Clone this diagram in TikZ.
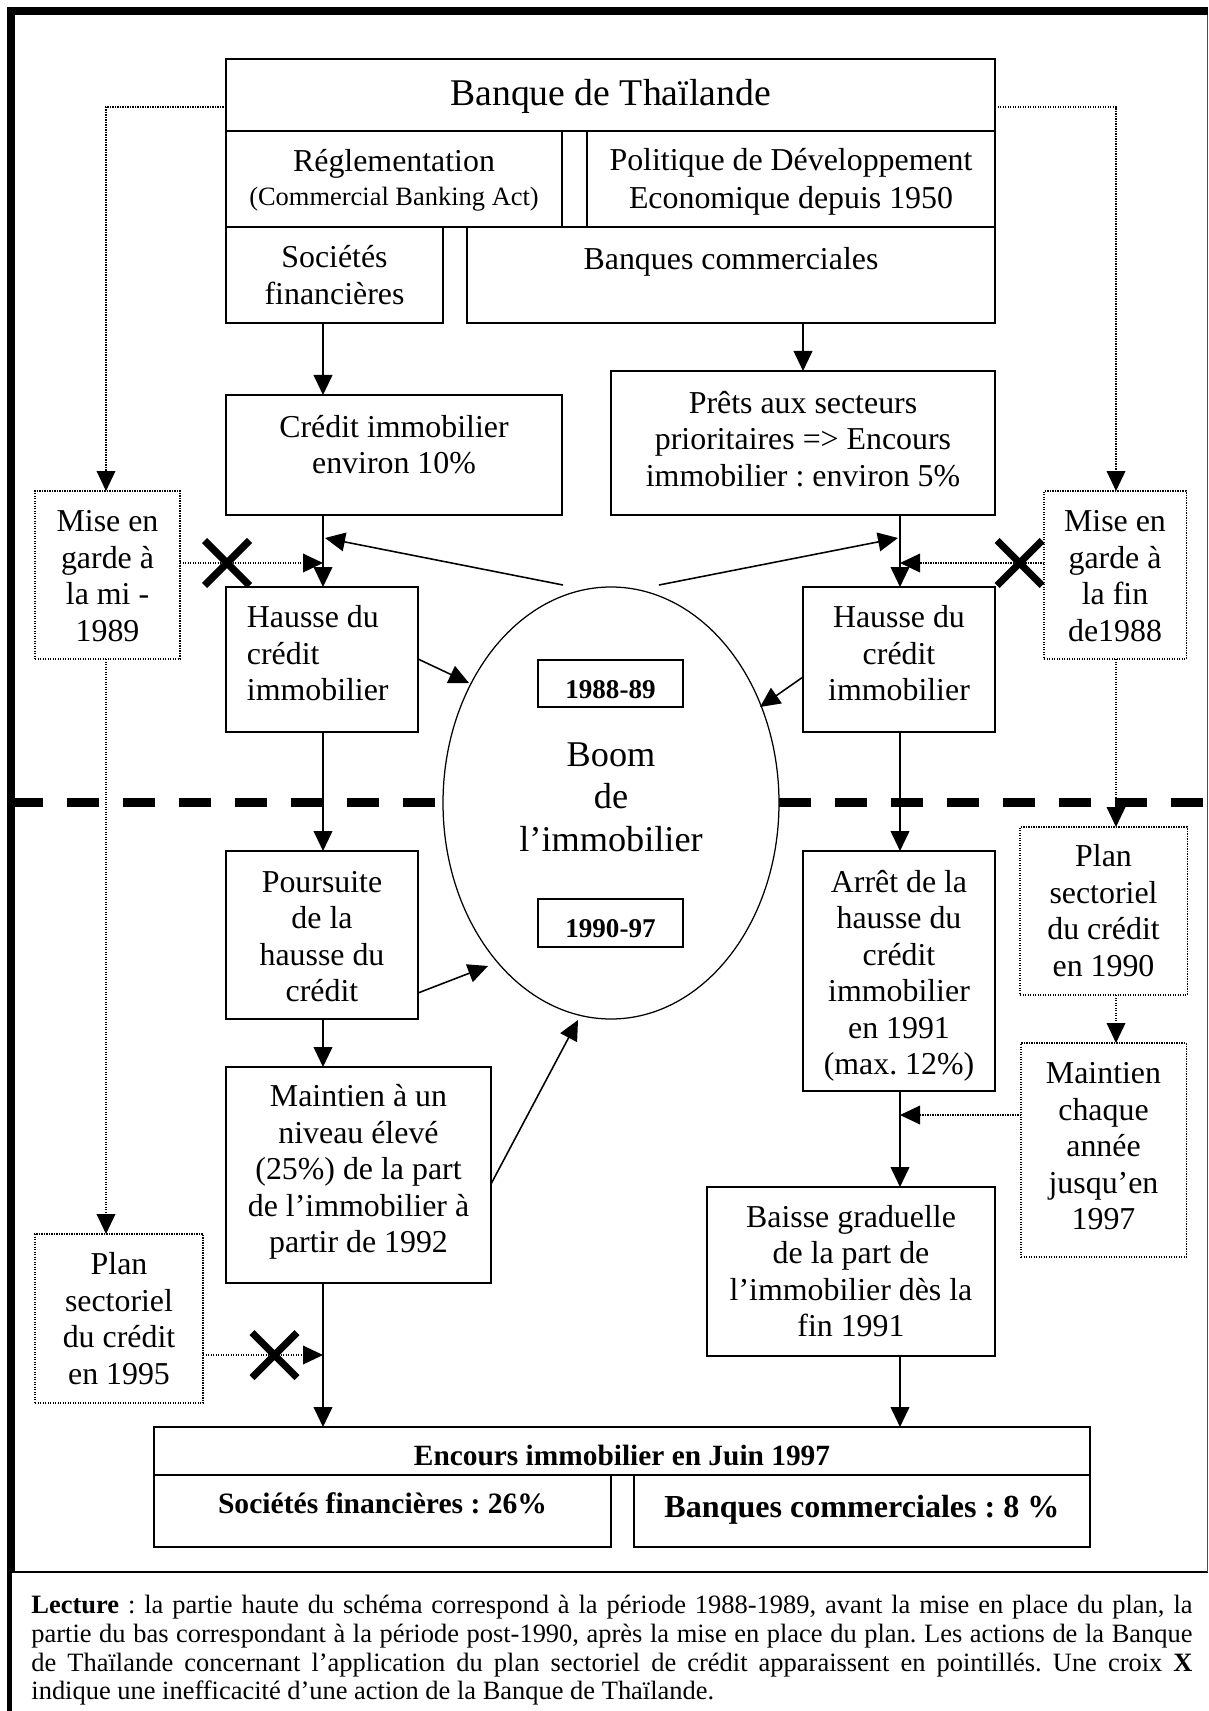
\documentclass[tikz,border=0pt]{standalone}
\usepackage{fontspec}
\setmainfont{Liberation Serif}
\usetikzlibrary{arrows.meta,shapes.geometric}
\frenchspacing
\newcommand\bx[6][box]{\node[#1, anchor=north west, minimum width={(#5-#3)*0.48pt}, minimum height={(#6-#4)*0.48pt}] (#2) at (#3,#4) {};}
\begin{document}
\begin{tikzpicture}[x=0.48pt, y=-0.48pt,
  box/.style={draw, line width=0.75pt, inner sep=0pt, outer sep=0pt},
  tbox/.style={box, line width=1pt},
  dbox/.style={box, line width=0.5pt, dash pattern=on 0.6pt off 0.6pt},
  ybox/.style={box, line width=0.9pt},
  txt/.style={inner sep=0pt, align=center, font=\fontsize{15.3}{17.5}\selectfont, execute at begin node=\strut\frenchspacing, execute at end node=\strut},
  btxt/.style={txt, font=\bfseries\fontsize{13}{15}\selectfont},
  arr/.style={line width=0.75pt, -{Triangle[length=9.6pt, width=9pt]}},
  darr/.style={line width=0.5pt, dash pattern=on 0.6pt off 0.6pt, -{Triangle[length=9.6pt, width=9pt]}},
  cross/.style={line width=3.4pt},
  bigdash/.style={line width=4.32pt, dash pattern=on 15.36pt off 11.52pt}
]
\useasboundingbox (0,0) rectangle (1208,1711);
% frame
\fill (7,7) rectangle (1208,15);
\fill (7,7) rectangle (15,1572);
\fill (7,1572) rectangle (12,1711);
\draw[line width=0.5pt] (7,1572) -- (1208,1572);
\draw[line width=0.5pt, black!70] (1207,15) -- (1207,1572);
% period separator
\draw[bigdash] (11,802.5) -- (450,802.5);
\draw[bigdash] (779,802.5) -- (1208,802.5);
% ellipse
\node[draw, ellipse, line width=0.6pt, fill=white, inner sep=0pt, minimum width={336*0.48pt}, minimum height={432*0.48pt}] (boom) at (611,803) {};
% boxes
\bx[tbox]{banque}{226}{59}{995}{131}
\bx[tbox]{reg}{226}{131}{562}{227}
\bx[tbox]{pol}{587}{131}{995}{227}
\bx[tbox]{soc}{226}{227}{443}{323}
\bx[tbox]{bc}{467}{227}{995}{323}
\bx{cred}{226}{395}{562}{515}
\bx{prets}{611}{371}{995}{515}
\bx[dbox]{miseL}{35}{491}{180}{659}
\bx[dbox]{miseR}{1044}{491}{1186}{659}
\bx{hausL}{226}{587}{418}{732}
\bx{hausR}{803}{587}{995}{732}
\bx[ybox]{yA}{538}{660}{683}{707}
\bx[ybox]{yB}{538}{899}{683}{947}
\bx{pours}{226}{851}{418}{1019}
\bx{arret}{803}{851}{995}{1091}
\bx[dbox]{plan90}{1020}{827}{1187}{995}
\bx{maintA}{226}{1067}{491}{1283}
\bx[dbox]{maintC}{1021}{1043}{1186}{1257}
\bx{baisse}{707}{1187}{995}{1356}
\bx[dbox]{plan95}{35}{1234}{203}{1403}
\bx[tbox]{enc}{154}{1427}{1090}{1475}
\bx[tbox]{socp}{154}{1475}{611}{1547}
\bx[tbox]{bcp}{634}{1475}{1090}{1547}
% helper coordinates
\coordinate (xL) at (323,0);
\coordinate (xR) at (900,0);
\coordinate (xB) at (803,0);
\coordinate (xDL) at (106,0);
\coordinate (xDR) at (1116,0);
\coordinate (yTop) at (0,107);
\coordinate (yM) at (0,563);
\coordinate (yC) at (0,1115);
\coordinate (yP) at (0,1355);
\coordinate (eTL) at (563,585);
\coordinate (jL) at (325,538);
\coordinate (eTR) at (659,585);
\coordinate (jR) at (898,538);
\coordinate (h1) at (0,659);
\coordinate (b1) at (469,683);
\coordinate (h2) at (0,677);
\coordinate (b2) at (760,707);
\coordinate (p1) at (0,993);
\coordinate (b3) at (488,966);
\coordinate (m1) at (0,1184);
\coordinate (b4) at (578,1020);
% connectors
\draw[arr] (soc.south -| xL) -- (cred.north -| xL);
\draw[arr] (bc.south -| xB) -- (prets.north -| xB);
\draw[arr] (cred.south -| xL) -- (hausL.north -| xL);
\draw[arr] (prets.south -| xR) -- (hausR.north -| xR);
\draw[arr] (eTL) -- (jL);
\draw[arr] (eTR) -- (jR);
\draw[darr] (miseL.east |- yM) -- (xL |- yM);
\draw[darr] (miseR.west |- yM) -- (xR |- yM);
\draw[darr] (banque.west |- yTop) -| (miseL.north -| xDL);
\draw[darr] (banque.east |- yTop) -| (miseR.north -| xDR);
\draw[arr] (hausL.east |- h1) -- (b1);
\draw[arr] (hausR.west |- h2) -- (b2);
\draw[arr] (hausL.south -| xL) -- (pours.north -| xL);
\draw[arr] (hausR.south -| xR) -- (arret.north -| xR);
\draw[darr] (miseR.south -| xDR) -- (plan90.north -| xDR);
\draw[darr] (miseL.south -| xDL) -- (plan95.north -| xDL);
\draw[arr] (pours.east |- p1) -- (b3);
\draw[arr] (pours.south -| xL) -- (maintA.north -| xL);
\draw[arr] (maintA.east |- m1) -- (b4);
\draw[darr] (plan90.south -| xDR) -- (maintC.north -| xDR);
\draw[darr] (maintC.west |- yC) -- (xR |- yC);
\draw[arr] (arret.south -| xR) -- (baisse.north -| xR);
\draw[arr] (maintA.south -| xL) -- (enc.north -| xL);
\draw[arr] (baisse.south -| xR) -- (enc.north -| xR);
\draw[darr] (plan95.east |- yP) -- (xL |- yP);
% crosses
\draw[cross] (204.5,540.5) -- (249.5,585.5) (204.5,585.5) -- (249.5,540.5);
\draw[cross] (997,540.5) -- (1042,585.5) (997,585.5) -- (1042,540.5);
\draw[cross] (252,1332.5) -- (297,1377.5) (252,1377.5) -- (297,1332.5);
% texts
\node[txt, font=\fontsize{18.1}{20.8}\selectfont] (t-banque) at (610.5,97) {Banque de Thaïlande};
\node[txt] (t-reg) at (394,164) {Réglementation};
\node[txt, font=\fontsize{12.7}{14.6}\selectfont] (t-cba) at (394,199) {(Commercial Banking Act)};
\node[txt, font=\fontsize{15.3}{18.24}\selectfont] (t-pol) at (791,184.5) {Politique de Développement\\Economique depuis 1950};
\node[txt] (t-soc) at (334.5,280.5) {Sociétés\\financières};
\node[txt] (t-bc) at (731,262.5) {Banques commerciales};
\node[txt] (t-cred) at (394,450) {Crédit immobilier\\environ 10\%};
\node[txt] (t-prets) at (803,444) {Prêts aux secteurs\\prioritaires => Encours\\immobilier : environ 5\%};
\node[txt] (t-miseL) at (107.5,581.5) {Mise en\\garde à\\la mi -\\1989};
\node[txt] (t-miseR) at (1115,581.5) {Mise en\\garde à\\la fin\\de1988};
\node[txt, align=left, anchor=west] (t-hausL) at (246.5,658.5) {Hausse du\\crédit\\immobilier};
\node[txt] (t-hausR) at (899,658.5) {Hausse du\\crédit\\immobilier};
\node[btxt] (t-yA) at (610.5,692) {1988-89};
\node[txt, font=\fontsize{17.4}{20.4}\selectfont] (t-boom) at (611,803.5) {Boom\\de\\l’immobilier};
\node[btxt] (t-yB) at (610.5,931) {1990-97};
\node[txt] (t-pours) at (322,942) {Poursuite\\de la\\hausse du\\crédit};
\node[txt] (t-arret) at (899,978) {Arrêt de la\\hausse du\\crédit\\immobilier\\en 1991\\(max. 12\%)};
\node[txt] (t-plan90) at (1103.5,916) {Plan\\sectoriel\\du crédit\\en 1990};
\node[txt] (t-maintA) at (358.5,1174) {Maintien à un\\niveau élevé\\(25\%) de la part\\de l’immobilier à\\partir de 1992};
\node[txt] (t-maintC) at (1103.5,1151.5) {Maintien\\chaque\\année\\jusqu’en\\1997};
\node[txt] (t-baisse) at (851,1276.5) {Baisse graduelle\\de la part de\\l’immobilier dès la\\fin 1991};
\node[txt] (t-plan95) at (119,1324) {Plan\\sectoriel\\du crédit\\en 1995};
\node[txt, font=\bfseries\fontsize{14.1}{16.2}\selectfont] (t-enc) at (622,1459) {Encours immobilier en Juin 1997};
\node[txt, font=\bfseries\fontsize{14.2}{16.3}\selectfont] (t-socp) at (382.5,1507) {Sociétés financières : 26\%};
\node[txt, font=\bfseries\fontsize{15.4}{17.7}\selectfont] (t-bcp) at (862,1510) {Banques commerciales : 8 \%};
\node[anchor=base west, inner sep=0pt, text width=557.3pt, align=justify, font=\fontsize{12.7}{13.8}\selectfont] (cap) at (31,1613.5) {\hyphenpenalty=10000 \frenchspacing \textbf{Lecture} : la partie haute du schéma correspond à la période 1988-1989, avant la mise en place du plan, la\linebreak partie du bas correspondant à la période post-1990, après la mise en place du plan. Les actions de la Banque\linebreak de Thaïlande concernant l’application du plan sectoriel de crédit apparaissent en pointillés. Une croix \textbf{X}\linebreak indique une inefficacité d’une action de la Banque de Thaïlande.};
\end{tikzpicture}
\end{document}
